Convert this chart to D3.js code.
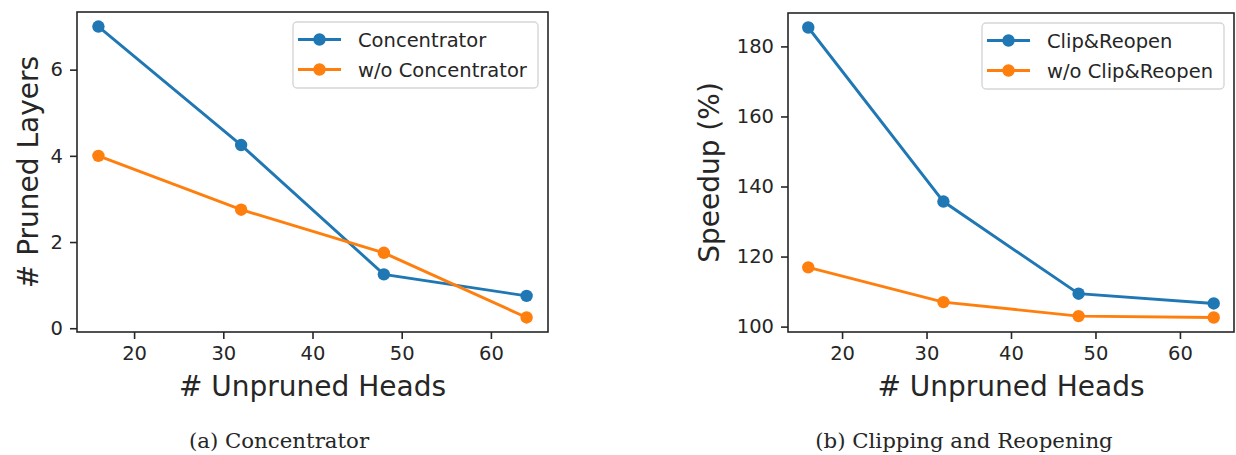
<!DOCTYPE html>
<html>
<head>
<meta charset="utf-8">
<script src="https://cdn.jsdelivr.net/npm/d3@7"></script>
<style>
  body { margin: 0; background: #fff; }
  svg text { fill: #262626; }
</style>
</head>
<body>
<svg id="chart" width="1236" height="455"></svg>
<script>
// data
var heads = [16, 32, 48, 64];

var concentrator = [7, 4.25, 1.25, 0.75];
var noConcentrator = [4, 2.75, 1.75, 0.25];
var layerTicks = [0, 2, 4, 6];

var clipReopen = [185.4, 135.7, 109.4, 106.6];
var noClipReopen = [116.9, 107.0, 103.0, 102.6];
var speedupTicks = [100, 120, 140, 160, 180];

var headTicks = [20, 30, 40, 50, 60];

var blue = "#1f77b4", orange = "#ff7f0e";

var svg = d3.select("#chart");

function panel(opt) {
    var box = opt.box;
    var g = svg.append("g");

    // matplotlib style 5% margins
    var x = d3.scaleLinear().domain(pad(heads)).range([box.left, box.right]);
    var allY = opt.series[0].values.concat(opt.series[1].values);
    var y = d3.scaleLinear().domain(pad(allY)).range([box.bottom, box.top]);

    var line = d3.line()
        .x(function (d, i) { return x(heads[i]); })
        .y(function (d) { return y(d); });

    opt.series.forEach(function (s) {
        g.append("path")
            .datum(s.values)
            .attr("fill", "none")
            .attr("stroke", s.color)
            .attr("stroke-width", 2.9)
            .attr("d", line);
        g.selectAll(null)
            .data(s.values)
            .enter().append("circle")
            .attr("cx", function (d, i) { return x(heads[i]); })
            .attr("cy", function (d) { return y(d); })
            .attr("r", 6.2)
            .attr("fill", s.color);
    });

    // axes
    var xAxis = g.append("g")
        .attr("transform", "translate(0," + box.bottom + ")")
        .call(d3.axisBottom(x).tickValues(headTicks).tickSize(7).tickPadding(7).tickSizeOuter(0));
    var yAxis = g.append("g")
        .attr("transform", "translate(" + box.left + ",0)")
        .call(d3.axisLeft(y).tickValues(opt.yTicks).tickSize(7).tickPadding(7).tickSizeOuter(0));
    [xAxis, yAxis].forEach(function (a) {
        a.select(".domain").remove();
        a.selectAll(".tick line").attr("stroke", "#262626").attr("stroke-width", 1.6);
        a.selectAll(".tick text")
            .attr("font-family", "DejaVu Sans")
            .attr("font-size", 19.5)
            .attr("fill", "#262626");
    });

    g.append("rect")
        .attr("x", box.left).attr("y", box.top)
        .attr("width", box.right - box.left).attr("height", box.bottom - box.top)
        .attr("fill", "none").attr("stroke", "#262626").attr("stroke-width", 1.6);

    // axis labels
    g.append("text")
        .attr("x", (box.left + box.right) / 2)
        .attr("y", 396)
        .attr("text-anchor", "middle")
        .attr("font-family", "DejaVu Sans")
        .attr("font-size", 28)
        .text("# Unpruned Heads");
    g.append("text")
        .attr("transform", "translate(" + opt.yLabelX + "," + (box.top + box.bottom) / 2 + ")rotate(-90)")
        .attr("text-anchor", "middle")
        .attr("font-family", "DejaVu Sans")
        .attr("font-size", 28)
        .text(opt.yLabel);

    // legend
    var lg = opt.legend;
    g.append("rect")
        .attr("x", lg.x).attr("y", lg.y)
        .attr("width", lg.w).attr("height", lg.h)
        .attr("rx", 4)
        .attr("fill", "#fff").attr("fill-opacity", 0.8)
        .attr("stroke", "#d6d6d6").attr("stroke-width", 1.4);
    var tags = g.append("g")
        .selectAll("g")
        .data(opt.series)
        .enter().append("g")
        .attr("transform", function (d, i) { return "translate(" + (lg.x + 5) + "," + (lg.y + 17.5 + i * 30) + ")"; });
    tags.append("line")
        .attr("x1", 0).attr("x2", 43)
        .attr("stroke", function (d) { return d.color; })
        .attr("stroke-width", 2.9);
    tags.append("circle")
        .attr("cx", 21.5).attr("r", 6.2)
        .attr("fill", function (d) { return d.color; });
    tags.append("text")
        .attr("x", 60)
        .attr("dy", "0.36em")
        .attr("font-family", "DejaVu Sans")
        .attr("font-size", 19.5)
        .text(function (d) { return d.name; });

    // caption
    svg.append("text")
        .attr("x", opt.captionX)
        .attr("y", 448)
        .attr("text-anchor", "middle")
        .attr("font-family", "DejaVu Serif")
        .attr("font-size", 21.3)
        .attr("fill", "#000")
        .text(opt.caption);
}

function pad(vals) {
    var ext = d3.extent(vals), m = (ext[1] - ext[0]) * 0.05;
    return [ext[0] - m, ext[1] + m];
}

panel({
    box: { left: 77, right: 548, top: 12, bottom: 332 },
    series: [
        { name: "Concentrator", values: concentrator, color: blue },
        { name: "w/o Concentrator", values: noConcentrator, color: orange }
    ],
    yTicks: layerTicks,
    yLabel: "# Pruned Layers",
    yLabelX: 38,
    legend: { x: 293, y: 22, w: 245, h: 66 },
    caption: "(a) Concentrator",
    captionX: 279
});

panel({
    box: { left: 788, right: 1234, top: 13, bottom: 332 },
    series: [
        { name: "Clip&Reopen", values: clipReopen, color: blue },
        { name: "w/o Clip&Reopen", values: noClipReopen, color: orange }
    ],
    yTicks: speedupTicks,
    yLabel: "Speedup (%)",
    yLabelX: 719,
    legend: { x: 982, y: 23, w: 242, h: 66 },
    caption: "(b) Clipping and Reopening",
    captionX: 964
});
</script>
</body>
</html>
